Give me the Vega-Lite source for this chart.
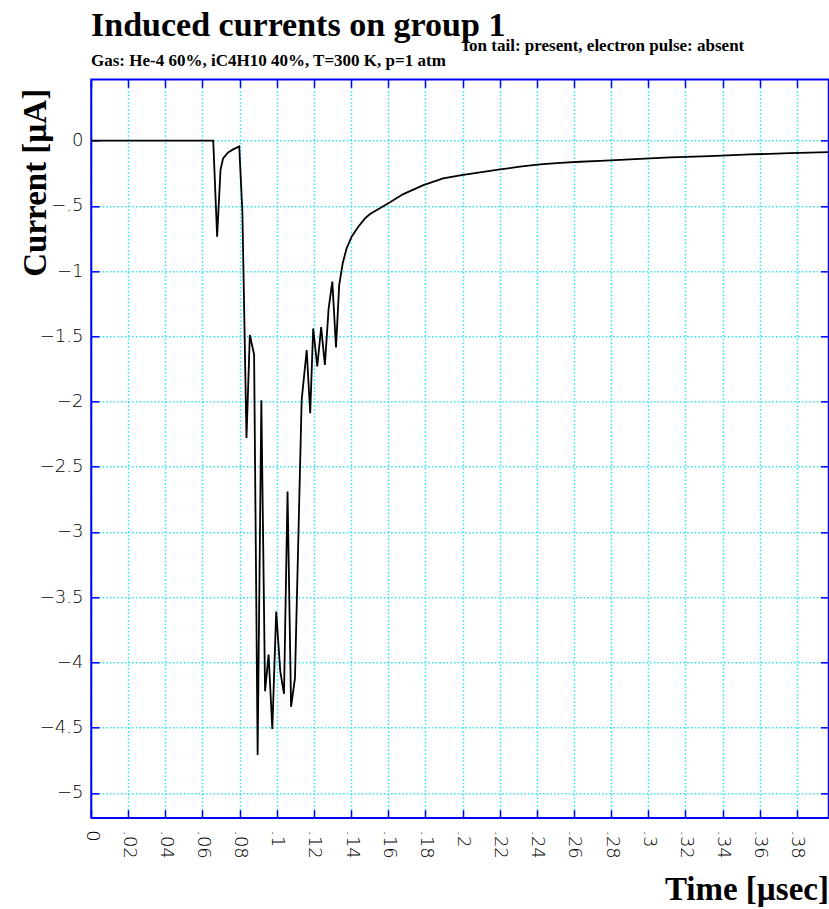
{
  "$schema": "https://vega.github.io/schema/vega-lite/v6.json",
  "width": 737.5,
  "height": 738.4,
  "autosize": {"type": "none"},
  "padding": {"left": 91, "top": 79.3, "right": 0.5, "bottom": 91.3},
  "background": "white",
  "config": {
    "view": {"stroke": "#0000ff", "strokeWidth": 1.5},
    "axis": {
      "domainColor": "#0000ff",
      "domainWidth": 1.5,
      "tickColor": "#0000ff",
      "tickWidth": 1.5,
      "tickSize": -8,
      "gridColor": "#2fe2f2",
      "gridDash": [1.5, 2.2],
      "gridWidth": 1.5,
      "gridOpacity": 1,
      "labelFont": "DejaVu Sans",
      "labelFontSize": 18,
      "labelFontWeight": 200,
      "labelColor": "black",
      "titleFont": "Liberation Serif",
      "titleFontWeight": "bold",
      "titleColor": "black"
    }
  },
  "title": {
    "text": "Induced currents on group 1",
    "subtitle": "Gas: He-4 60%, iC4H10 40%, T=300 K, p=1 atm",
    "anchor": "start",
    "frame": "group",
    "font": "Liberation Serif",
    "fontSize": 34,
    "fontWeight": "bold",
    "color": "black",
    "subtitleFont": "Liberation Serif",
    "subtitleFontSize": 17,
    "subtitleFontWeight": "bold",
    "subtitleColor": "black",
    "subtitlePadding": 10,
    "offset": -33
  },
  "data": {
    "values": [
      {"t": 0, "c": 0},
      {"t": 0.0658, "c": 0},
      {"t": 0.0679, "c": -0.737},
      {"t": 0.0697, "c": -0.226},
      {"t": 0.0711, "c": -0.136},
      {"t": 0.0738, "c": -0.09},
      {"t": 0.0765, "c": -0.067},
      {"t": 0.0798, "c": -0.045},
      {"t": 0.0815, "c": -0.55},
      {"t": 0.0837, "c": -2.28},
      {"t": 0.0855, "c": -1.49},
      {"t": 0.0878, "c": -1.64},
      {"t": 0.0897, "c": -4.71},
      {"t": 0.0917, "c": -1.99},
      {"t": 0.0937, "c": -4.22},
      {"t": 0.0956, "c": -3.94},
      {"t": 0.0976, "c": -4.51},
      {"t": 0.0997, "c": -3.61},
      {"t": 0.1019, "c": -4.07},
      {"t": 0.1039, "c": -4.24},
      {"t": 0.1058, "c": -2.69},
      {"t": 0.1077, "c": -4.34},
      {"t": 0.1098, "c": -4.12},
      {"t": 0.1134, "c": -1.99},
      {"t": 0.1161, "c": -1.605},
      {"t": 0.118, "c": -2.09},
      {"t": 0.1196, "c": -1.44},
      {"t": 0.1218, "c": -1.73},
      {"t": 0.1239, "c": -1.43},
      {"t": 0.1259, "c": -1.72},
      {"t": 0.1279, "c": -1.29},
      {"t": 0.1299, "c": -1.08},
      {"t": 0.1319, "c": -1.585},
      {"t": 0.1336, "c": -1.107},
      {"t": 0.1355, "c": -0.94},
      {"t": 0.1376, "c": -0.826},
      {"t": 0.1403, "c": -0.737},
      {"t": 0.1439, "c": -0.66},
      {"t": 0.1475, "c": -0.596},
      {"t": 0.1502, "c": -0.563},
      {"t": 0.1592, "c": -0.487},
      {"t": 0.1681, "c": -0.41},
      {"t": 0.1789, "c": -0.341},
      {"t": 0.1896, "c": -0.29},
      {"t": 0.1995, "c": -0.264},
      {"t": 0.2094, "c": -0.244},
      {"t": 0.2202, "c": -0.221},
      {"t": 0.2309, "c": -0.2},
      {"t": 0.2417, "c": -0.182},
      {"t": 0.2525, "c": -0.17},
      {"t": 0.2633, "c": -0.162},
      {"t": 0.274, "c": -0.155},
      {"t": 0.2902, "c": -0.144},
      {"t": 0.3117, "c": -0.129},
      {"t": 0.3333, "c": -0.119},
      {"t": 0.3548, "c": -0.106},
      {"t": 0.3764, "c": -0.096},
      {"t": 0.397, "c": -0.088}
    ]
  },
  "layer": [
    {
      "mark": {"type": "line", "color": "black", "strokeWidth": 1.8, "clip": true},
      "encoding": {
        "x": {
          "field": "t",
          "type": "quantitative",
          "scale": {"domain": [0, 0.397], "nice": false, "zero": false},
          "axis": {
            "orient": "bottom",
            "values": [0, 0.02, 0.04, 0.06, 0.08, 0.1, 0.12, 0.14, 0.16, 0.18, 0.2, 0.22, 0.24, 0.26, 0.28, 0.3, 0.32, 0.34, 0.36, 0.38],
            "format": ".2~f",
            "labelExpr": "replace(datum.label, '0.', '.')",
            "labelAngle": 90,
            "labelAlign": "left",
            "labelBaseline": "middle",
            "labelPadding": 20,
            "labelOverlap": false,
            "labelFlush": false,
            "grid": true,
            "title": "Time [µsec]",
            "titleFontSize": 33,
            "titleX": 737.5,
            "titleY": 82,
            "titleAlign": "right",
            "titleBaseline": "alphabetic",
            "titleAnchor": null
          }
        },
        "y": {
          "field": "c",
          "type": "quantitative",
          "scale": {"domain": [-5.19, 0.47], "nice": false, "zero": false},
          "axis": {
            "orient": "left",
            "values": [0, -0.5, -1, -1.5, -2, -2.5, -3, -3.5, -4, -4.5, -5],
            "format": ".1~f",
            "labelExpr": "replace(datum.label, '0.', '.')",
            "labelPadding": 16,
            "labelOverlap": false,
            "labelFlush": false,
            "grid": true,
            "title": "Current [µA]",
            "titleFontSize": 33,
            "titleAngle": -90,
            "titleX": -46,
            "titleY": 9,
            "titleAlign": "right",
            "titleBaseline": "alphabetic",
            "titleAnchor": null
          }
        }
      }
    },
    {
      "mark": {"type": "line", "opacity": 0},
      "encoding": {
        "x": {
          "field": "t",
          "type": "quantitative",
          "scale": {"domain": [0, 0.397], "nice": false, "zero": false},
          "axis": {
            "orient": "top",
            "values": [0, 0.02, 0.04, 0.06, 0.08, 0.1, 0.12, 0.14, 0.16, 0.18, 0.2, 0.22, 0.24, 0.26, 0.28, 0.3, 0.32, 0.34, 0.36, 0.38],
            "labels": false,
            "grid": false,
            "title": "Ion tail: present, electron pulse: absent",
            "titleFontSize": 17,
            "titleX": 371,
            "titleY": -29,
            "titleAlign": "left",
            "titleBaseline": "alphabetic",
            "titleAnchor": null
          }
        },
        "y": {
          "field": "c",
          "type": "quantitative",
          "scale": {"domain": [-5.19, 0.47], "nice": false, "zero": false},
          "axis": {
            "orient": "right",
            "values": [0, -0.5, -1, -1.5, -2, -2.5, -3, -3.5, -4, -4.5, -5],
            "labels": false,
            "grid": false,
            "title": null
          }
        }
      }
    }
  ],
  "resolve": {"axis": {"x": "independent", "y": "independent"}}
}
